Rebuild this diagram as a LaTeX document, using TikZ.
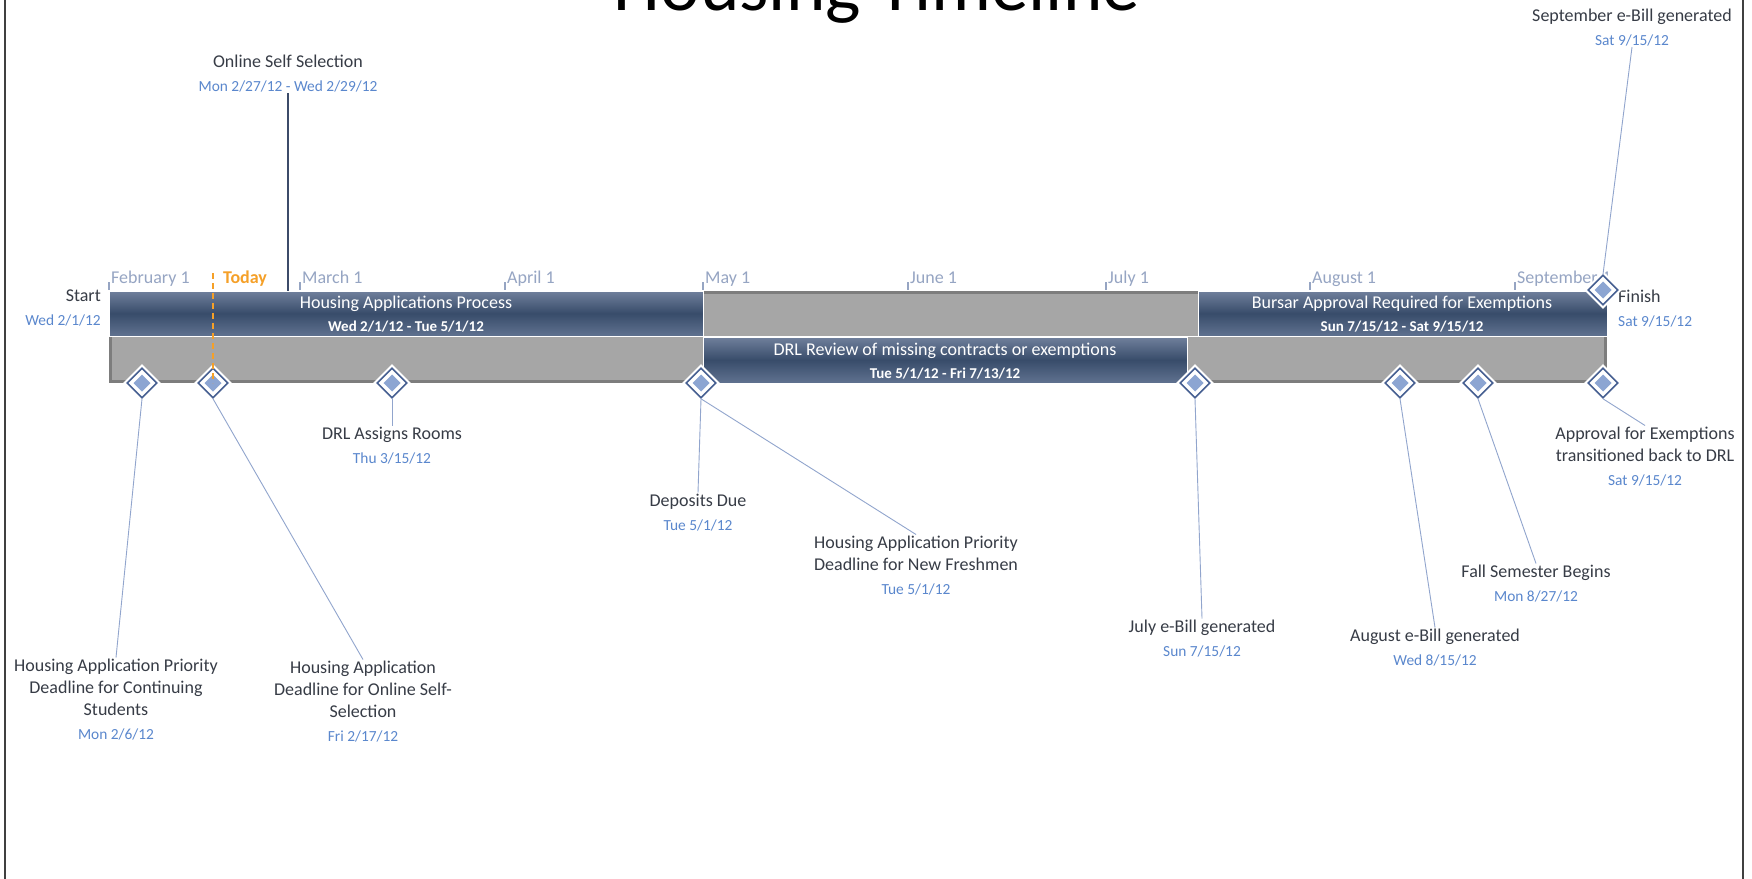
\documentclass[tikz,border=0pt]{standalone}
\usepackage{fontspec}
\setmainfont{Carlito}
\usepackage{xcolor}
\usepackage{tikz}
\usetikzlibrary{shapes.geometric,positioning,calc}
\definecolor{labeldark}{RGB}{55, 60, 70}
\definecolor{dateblue}{RGB}{90, 135, 205}
\definecolor{monthgray}{RGB}{150, 165, 195}
\definecolor{todayorange}{RGB}{245, 160, 40}
\definecolor{bartop}{RGB}{112, 128, 156}
\definecolor{barmid}{RGB}{56, 76, 106}
\definecolor{barbot}{RGB}{96, 114, 144}
\definecolor{bandgray}{RGB}{166, 166, 166}
\definecolor{bandedge}{RGB}{125, 125, 125}
\definecolor{msline}{RGB}{70, 95, 145}
\definecolor{msfill}{RGB}{140, 165, 210}
\definecolor{linkblue}{RGB}{145, 165, 205}
\definecolor{linknavy}{RGB}{60, 75, 105}
\newcommand{\when}[1]{{\color{dateblue}\fontsize{15.4}{22}\selectfont #1}}

\begin{document}
\begin{tikzpicture}[x=1pt, y=-1pt,
    lbl/.style={align=center, text=labeldark, font=\fontsize{18}{22}\selectfont, inner sep=1pt},
    month/.style={anchor=base west, text=monthgray, font=\fontsize{18}{22}\selectfont, inner sep=1pt},
    task/.style={draw=white, line width=1pt, top color=bartop, bottom color=barbot, middle color=barmid},
    tasktext/.style={align=center, text=white, font=\fontsize{18}{22}\selectfont},
    milestone/.style={diamond, aspect=1, minimum size=30pt, inner sep=0pt, fill=white, draw=msline, line width=1.6pt,
        preaction={draw=white, line width=6pt},
        path picture={\fill[msfill] ($(path picture bounding box.center)+(0,-8.5)$) -- +(8.5,8.5) -- +(0,17) -- +(-8.5,8.5) -- cycle;}},
    link/.style={draw=linkblue, line width=0.9pt}]
    \useasboundingbox (0,0) rectangle (1752,878);
    \clip (0,0) rectangle (1752,878);
    \fill[white] (0,0) rectangle (1752,878);
    \draw[line width=2pt, black!75] (5,-5) -- (5,883);
    \draw[line width=2pt, black!75] (1743,-5) -- (1743,883);
    \node[anchor=base, font=\fontsize{75}{90}\selectfont] (title) at (877,10) {Housing Timeline};

    \fill[bandgray] (109,337) rectangle (1607,383);
    \fill[bandgray] (703,291) rectangle (1198,336);
    \draw[bandedge, line width=3pt] (703,292.5) -- (1198,292.5);
    \draw[bandedge, line width=3pt] (110.5,337) -- (110.5,381.5) -- (1605.5,381.5) -- (1605.5,337);

    \path[task] (109,291) rectangle (703,336);
    \node[tasktext] (hap) at (406,314.5) {Housing Applications Process\\[1pt]{\bfseries\fontsize{15}{22}\selectfont Wed 2/1/12 - Tue 5/1/12}};
    \path[task] (1198,291) rectangle (1607,336);
    \node[tasktext] (bursar) at (1402,314.5) {Bursar Approval Required for Exemptions\\[1pt]{\bfseries\fontsize{15}{22}\selectfont Sun 7/15/12 - Sat 9/15/12}};
    \path[task] (703,337) rectangle (1187,383);
    \node[tasktext] (drl) at (945,361) {DRL Review of missing contracts or exemptions\\[1pt]{\bfseries\fontsize{15}{22}\selectfont Tue 5/1/12 - Fri 7/13/12}};

    \foreach \x/\m [count=\i] in {109/February 1, 300/March 1, 505/April 1, 703/May 1, 908/June 1, 1106/July 1, 1310/August 1, 1515/September 1} {
        \draw[monthgray, line width=1.2pt] (\x,282) -- (\x,290);
        \node[month] (mon\i) at (\x+1,283) {\m};
    }
    \node[anchor=base west, text=todayorange, font=\bfseries\fontsize{18}{22}\selectfont, inner sep=1pt] (today) at (222,283) {Today};

    \node[lbl, align=right, anchor=north east] (start) at (102,288.5) {Start\\[2pt]\when{Wed 2/1/12}};
    \node[lbl, align=left, anchor=north west] (finish) at (1617,288.5) {Finish\\[2pt]\when{Sat 9/15/12}};

    \node[milestone] (m1) at (142,383) {};
    \node[milestone] (m2) at (213,383) {};
    \node[milestone] (m3) at (392,383) {};
    \node[milestone] (m4) at (701,383) {};
    \node[milestone] (m5) at (1195,383) {};
    \node[milestone] (m6) at (1400,383) {};
    \node[milestone] (m7) at (1478,383) {};
    \node[milestone] (m8) at (1603,383) {};
    \node[milestone] (m9) at (1603,290) {};

    \coordinate (todaytop) at (213,273);
    \draw[todayorange, line width=1.2pt, dash pattern=on 6pt off 4pt] (todaytop) -- (m2.center);

    \node[lbl, anchor=north] (oss) at (288,53.5) {Online Self Selection\\[2pt]\when{Mon 2/27/12 - Wed 2/29/12}};
    \coordinate (osstask) at (288,291);
    \draw[linknavy, line width=1.2pt] (oss.south) -- (osstask);

    \node[lbl, anchor=north] (l1) at (116,657.5) {Housing Application Priority\\Deadline for Continuing\\Students\\[2pt]\when{Mon 2/6/12}};
    \node[lbl, anchor=north] (l2) at (363,659.5) {Housing Application\\Deadline for Online Self-\\Selection\\[2pt]\when{Fri 2/17/12}};
    \node[lbl, anchor=north] (l3) at (392,425.5) {DRL Assigns Rooms\\[2pt]\when{Thu 3/15/12}};
    \node[lbl, anchor=north] (l4) at (698,492.5) {Deposits Due\\[2pt]\when{Tue 5/1/12}};
    \node[lbl, anchor=north] (l5) at (916,534.5) {Housing Application Priority\\Deadline for New Freshmen\\[2pt]\when{Tue 5/1/12}};
    \node[lbl, anchor=north] (l6) at (1202,618.5) {July e-Bill generated\\[2pt]\when{Sun 7/15/12}};
    \node[lbl, anchor=north] (l7) at (1435,627.5) {August e-Bill generated\\[2pt]\when{Wed 8/15/12}};
    \node[lbl, anchor=north] (l8) at (1536,563.5) {Fall Semester Begins\\[2pt]\when{Mon 8/27/12}};
    \node[lbl, anchor=north] (l9) at (1645,425.5) {Approval for Exemptions\\transitioned back to DRL\\[2pt]\when{Sat 9/15/12}};
    \node[lbl, anchor=north] (l10) at (1632,7.5) {September e-Bill generated\\[2pt]\when{Sat 9/15/12}};

    \draw[link] (m1.south) -- (l1.north);
    \draw[link] (m2.south) -- (l2.north);
    \draw[link] (m3.south) -- (l3.north);
    \draw[link] (m4.south) -- (l4.north);
    \draw[link] (m4.south) -- (l5.north);
    \draw[link] (m5.south) -- (l6.north);
    \draw[link] (m6.south) -- (l7.north);
    \draw[link] (m7.south) -- (l8.north);
    \draw[link] (m8.south) -- (l9.north);
    \draw[link] (l10.south) -- (m9.north);
\end{tikzpicture}
\end{document}
